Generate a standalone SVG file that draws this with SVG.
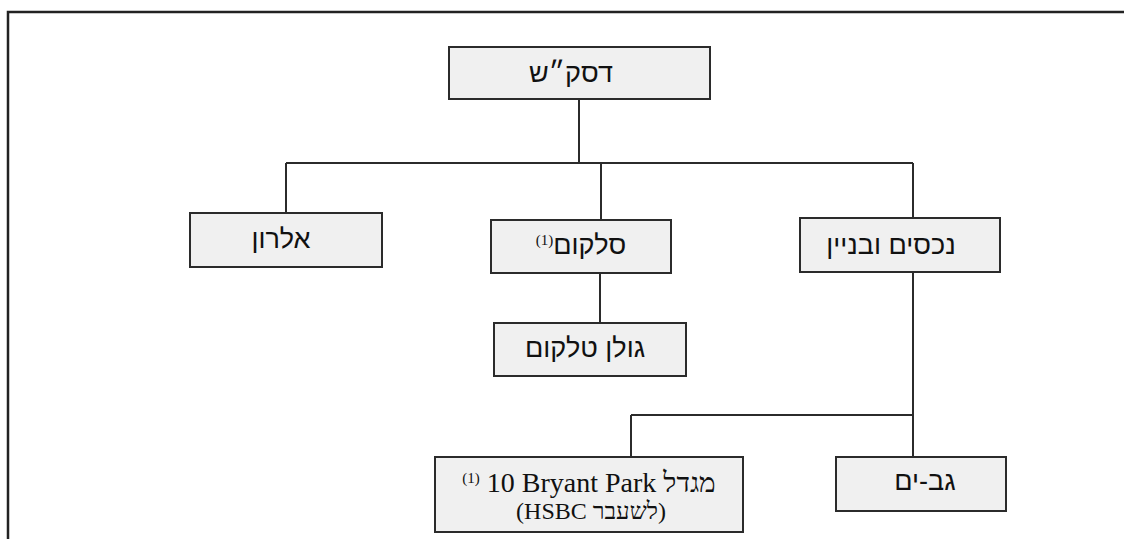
<svg xmlns="http://www.w3.org/2000/svg" width="1124" height="539" viewBox="0 0 1124 539">
<style>
.box{fill:#f0f0f0;stroke:#2b2b2b;stroke-width:2}
.he{font-family:"Liberation Sans","DejaVu Sans",sans-serif;font-size:27px;fill:#111;text-anchor:middle}
.se{font-family:"Liberation Serif","DejaVu Serif",serif;fill:#111;text-anchor:middle}
.sup{font-family:"Liberation Serif",serif;font-size:15px}
.ln{stroke:#2b2b2b;stroke-width:2;fill:none}
</style>
<rect x="0" y="0" width="1124" height="539" fill="#ffffff"/>
<path d="M8,539 V12 H1124" stroke="#222" stroke-width="2.5" fill="none"/>
<g id="connectors" class="ln">
<path d="M579,99 V163"/>
<path d="M286,163 H913"/>
<path d="M286,163 V213"/>
<path d="M601,163 V220"/>
<path d="M913,163 V218"/>
<path d="M600,273 V323"/>
<path d="M913,272 V457"/>
<path d="M631,415 H913"/>
<path d="M631,415 V457"/>
</g>
<g id="node-dsksh">
<rect class="box" x="449" y="47" width="261" height="52"/>
<text class="he" x="571" y="82">דסק״ש</text>
</g>
<g id="node-elron">
<rect class="box" x="190" y="213" width="192" height="54"/>
<text class="he" x="281" y="248">אלרון</text>
</g>
<g id="node-selcom">
<rect class="box" x="491" y="220" width="180" height="53"/>
<text class="he" x="581" y="254" direction="ltr"><tspan class="sup" dy="-9">(1)</tspan><tspan dy="9">סלקום</tspan></text>
</g>
<g id="node-nechasim">
<rect class="box" x="800" y="218" width="200" height="54"/>
<text class="he" x="891" y="254">נכסים ובניין</text>
</g>
<g id="node-golan">
<rect class="box" x="494" y="323" width="192" height="53"/>
<text class="he" x="585" y="357">גולן טלקום</text>
</g>
<g id="node-bryant">
<rect class="box" x="435" y="457" width="308" height="75"/>
<text class="se" x="589" y="492" font-size="28" direction="ltr"><tspan class="sup" font-size="16" dy="-9">(1)</tspan><tspan dy="9"> 10 Bryant Park מגדל</tspan></text>
<text class="se" x="591" y="519" font-size="24" direction="ltr">(HSBC לשעבר)</text>
</g>
<g id="node-gavyam">
<rect class="box" x="836" y="457" width="170" height="54"/>
<text class="he" x="925" y="490">גב-ים</text>
</g>
</svg>
